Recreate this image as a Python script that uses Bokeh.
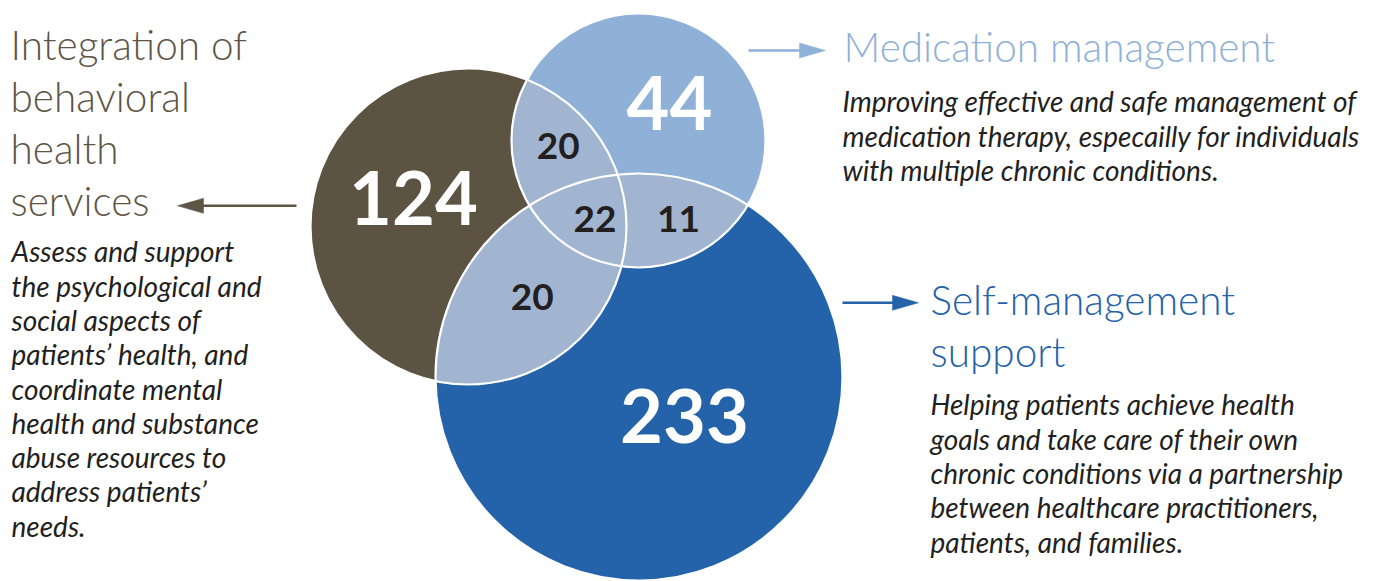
import numpy as np
from bokeh.plotting import figure
from bokeh.models import Range1d
from bokeh.core.properties import value
from bokeh.embed import file_html
from bokeh.resources import INLINE

# ---------------- data ----------------
set_names = ["Integration of behavioral health services",
             "Medication management",
             "Self-management support"]
set_only_counts = [124, 44, 233]
pair_names = ["Integration & Medication",
              "Integration & Self-management",
              "Medication & Self-management"]
pair_only_counts = [20, 20, 11]
all_three_count = [22]

heading_lines = [
    ["Integration of", "behavioral", "health", "services"],
    ["Medication management"],
    ["Self-management", "support"],
]
desc_lines = [
    ["Assess and support", "the psychological and", "social aspects of",
     "patients\u2019 health, and", "coordinate mental",
     "health and substance", "abuse resources to",
     "address patients\u2019", "needs."],
    ["Improving effective and safe management of",
     "medication therapy, especailly for individuals",
     "with multiple chronic conditions."],
    ["Helping patients achieve health",
     "goals and take care of their own",
     "chronic conditions via a partnership",
     "between healthcare practitioners,",
     "patients, and families."],
]

# ---------------- layout / style ----------------
W, H = 1382, 581
circ_cx = [468.0, 638.0, 638.5]
circ_cy = [226.0, 140.0, 376.5]
circ_r = [158.0, 127.0, 203.5]
circ_colors = ["#5C5343", "#8FB1D7", "#2462AA"]
overlap_color = "#A1B5D1"
text_dark = "#231F20"

set_label_xy = [(413, 225), (669, 130), (684, 443)]
pair_label_xy = [(557.7, 160), (531.7, 311.5), (678, 233)]
all_label_xy = [(594.5, 233)]

heading_xy = [(10, 60), (843, 62), (930, 315)]
heading_colors = ["#5E5545", "#8FB1D7", "#2462AA"]
heading_step = 52
desc_xy = [(11, 262), (842, 112), (930, 415)]
desc_step = 34.3

BIG, SMALL, HEAD, DESC = 74, 37, 40.5, 28
BASE_SHIFT = 0.4      # baseline correction, fraction of font size
BASE_SHIFT_BIG = 0.37

arrows = [  # tail, tip, color
    ((296, 205.3), (177, 205.3), "#5E5545"),
    ((748, 50), (825, 50), "#8FB1D7"),
    ((842, 302.3), (918, 302.3), "#2462AA"),
]
head_len, head_w = 26, 15

p = figure(width=W, height=H, x_range=Range1d(0, W), y_range=Range1d(H, 0),
           output_backend="svg", toolbar_location=None, min_border=0,
           x_axis_location=None, y_axis_location=None)
p.grid.visible = False
p.outline_line_color = None
p.background_fill_color = "white"
p.border_fill_color = "white"

# circles
p.circle(x=circ_cx, y=circ_cy, radius=circ_r, fill_color=circ_colors, line_color=None)


def lens(i, j, n=200):
    ax, ay, ra = circ_cx[i], circ_cy[i], circ_r[i]
    bx, by, rb = circ_cx[j], circ_cy[j], circ_r[j]
    d = np.hypot(bx - ax, by - ay)
    phi = np.arctan2(by - ay, bx - ax)
    alpha = np.arccos((d * d + ra * ra - rb * rb) / (2 * d * ra))
    beta = np.arccos((d * d + rb * rb - ra * ra) / (2 * d * rb))
    t1 = np.linspace(phi - alpha, phi + alpha, n)
    t2 = np.linspace(phi + np.pi - beta, phi + np.pi + beta, n)
    xs = np.concatenate([ax + ra * np.cos(t1), bx + rb * np.cos(t2)])
    ys = np.concatenate([ay + ra * np.sin(t1), by + rb * np.sin(t2)])
    return list(xs), list(ys)


lx, ly = [], []
for (i, j) in [(0, 1), (0, 2), (1, 2)]:
    xs, ys = lens(i, j)
    lx.append(xs)
    ly.append(ys)
p.patches(xs=lx, ys=ly, fill_color=overlap_color, line_color=overlap_color, line_width=0.5)

# white outlines
p.circle(x=circ_cx, y=circ_cy, radius=circ_r, fill_color=None, line_color="white", line_width=2.2)

# numbers
p.text(x=[xy[0] for xy in set_label_xy], y=[xy[1] - BASE_SHIFT_BIG * BIG for xy in set_label_xy],
       text=[str(v) for v in set_only_counts], text_font=value("Lato"),
       text_font_style="bold", text_font_size=f"{BIG}px", text_color="white",
       text_align="center", text_baseline="alphabetic")
small_xy = pair_label_xy + all_label_xy
small_vals = pair_only_counts + all_three_count
p.text(x=[xy[0] for xy in small_xy], y=[xy[1] - BASE_SHIFT * SMALL for xy in small_xy],
       text=[str(v) for v in small_vals], text_font=value("Lato"),
       text_font_style="bold", text_font_size=f"{SMALL}px", text_color=text_dark,
       text_align="center", text_baseline="alphabetic")

# headings and descriptions
for k in range(3):
    hx, hy = heading_xy[k]
    lines = heading_lines[k]
    p.text(x=[hx] * len(lines),
           y=[hy - BASE_SHIFT * HEAD + heading_step * m for m in range(len(lines))],
           text=lines, text_font=value("Lato Light"), text_font_size=f"{HEAD}px",
           text_color=heading_colors[k], text_align="left", text_baseline="alphabetic")
    dx, dy = desc_xy[k]
    dl = desc_lines[k]
    p.text(x=[dx] * len(dl),
           y=[dy - BASE_SHIFT * DESC + desc_step * m for m in range(len(dl))],
           text=dl, text_font=value("Lato"), text_font_style="italic",
           text_font_size=f"{DESC}px", text_color=text_dark,
           text_align="left", text_baseline="alphabetic")

# arrows
for (tail, tip, col) in arrows:
    tx, ty = tail
    ex, ey = tip
    L = np.hypot(ex - tx, ey - ty)
    ux, uy = (ex - tx) / L, (ey - ty) / L
    nx, ny = -uy, ux
    bx, by = ex - ux * head_len, ey - uy * head_len
    p.line(x=[tx, bx + ux * 2], y=[ty, by + uy * 2], line_color=col, line_width=2.6)
    p.patch(x=[ex, bx + nx * head_w / 2, bx - nx * head_w / 2],
            y=[ey, by + ny * head_w / 2, by - ny * head_w / 2],
            fill_color=col, line_color=col, line_width=0.5)

open("out.html", "w").write(file_html(p, INLINE))
